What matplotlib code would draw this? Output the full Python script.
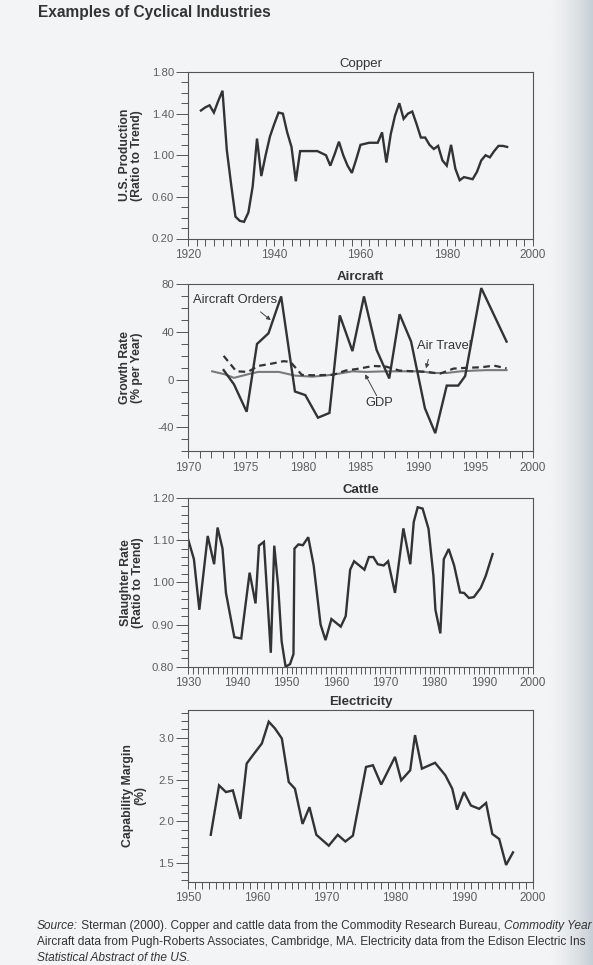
import matplotlib
matplotlib.use('Agg')
import matplotlib.pyplot as plt
import numpy as np
from matplotlib.ticker import MultipleLocator, FixedLocator, FormatStrFormatter

plt.rcParams['font.family'] = ['Liberation Sans', 'DejaVu Sans']

# ---------------- data ----------------
copper_years = list(range(1923, 1995))
copper_vals = [1.43, 1.46, 1.48, 1.41, 1.52, 1.62, 1.05, 0.72, 0.41, 0.37,
               0.36, 0.45, 0.70, 1.16, 0.80, 1.00, 1.18, 1.30, 1.41, 1.40,
               1.22, 1.08, 0.75, 1.04, 1.04, 1.04, 1.04, 1.04, 1.02, 1.00,
               0.90, 1.01, 1.13, 1.00, 0.90, 0.83, 0.96, 1.10, 1.11, 1.12,
               1.12, 1.12, 1.22, 0.93, 1.20, 1.38, 1.50, 1.35, 1.40, 1.42,
               1.30, 1.17, 1.17, 1.10, 1.06, 1.09, 0.95, 0.90, 1.10, 0.87,
               0.76, 0.79, 0.78, 0.77, 0.84, 0.95, 1.00, 0.98, 1.04, 1.09,
               1.09, 1.08]

orders_x = [1973.1, 1974.0, 1975.1, 1976.0, 1977.0, 1978.1, 1979.3, 1980.2,
            1981.3, 1982.3, 1983.2, 1984.3, 1985.3, 1986.4, 1987.5, 1988.4,
            1989.4, 1990.6, 1991.5, 1992.5, 1993.5, 1994.1, 1995.5, 1997.7]
orders_v = [8, -4, -27, 30, 39, 70, -10, -13, -32, -28, 54, 24, 70, 25, 1, 55,
            32, -24, -45, -5, -5, 3, 77, 32]

travel_x = [1973.1, 1974.2, 1975.2, 1976.1, 1977.3, 1978.3, 1978.9, 1979.9,
            1980.8, 1982.6, 1983.7, 1984.9, 1986.1, 1987.2, 1988.4, 1989.6,
            1990.8, 1991.9, 1993.1, 1994.3, 1995.5, 1996.6, 1997.7]
travel_v = [20, 7, 6.5, 11.5, 13.5, 15.5, 15, 4, 3.7, 4, 7.6, 9.3, 11.5, 11,
            7.6, 7, 6.5, 5, 9.3, 10, 10.4, 11.8, 9.5]

gdp_x = [1972.1, 1973.2, 1974.0, 1975.2, 1976.1, 1977.9, 1979.3, 1980.8,
         1982.0, 1983.1, 1984.3, 1985.5, 1987.2, 1989.0, 1990.2, 1991.3,
         1992.5, 1993.7, 1994.9, 1996.0, 1997.7]
gdp_v = [7, 4.5, 1.5, 4.5, 6.5, 6.5, 3.4, 2.5, 3.5, 5, 7, 6.5, 7, 7, 7, 5.6,
         5.6, 7, 7.6, 8, 8]

cattle_x = [1930.0, 1931.2, 1932.3, 1934.0, 1935.3, 1936.0, 1937.0, 1937.7,
            1939.4, 1940.8, 1942.5, 1943.7, 1944.4, 1945.4, 1946.8, 1947.5,
            1948.3, 1949.0, 1949.8, 1950.7, 1951.4, 1951.6, 1952.4, 1953.3,
            1954.4, 1955.5, 1956.9, 1957.9, 1959.1, 1961.0, 1962.0, 1962.9,
            1963.7, 1965.8, 1966.7, 1967.6, 1968.5, 1969.7, 1970.6, 1972.0,
            1973.7, 1975.1, 1975.8, 1976.6, 1977.6, 1978.8, 1979.8, 1980.2,
            1981.2, 1981.9, 1982.9, 1984.0, 1985.2, 1986.0, 1987.0, 1988.0,
            1989.4, 1990.4, 1991.8]
cattle_v = [1.103, 1.055, 0.935, 1.110, 1.043, 1.130, 1.080, 0.975, 0.870,
            0.867, 1.023, 0.950, 1.087, 1.096, 0.833, 1.087, 0.990, 0.860,
            0.800, 0.806, 0.830, 1.080, 1.090, 1.088, 1.107, 1.040, 0.900,
            0.863, 0.913, 0.895, 0.920, 1.030, 1.050, 1.030, 1.060, 1.060,
            1.043, 1.040, 1.050, 0.975, 1.128, 1.043, 1.143, 1.178, 1.175,
            1.127, 1.015, 0.935, 0.879, 1.055, 1.079, 1.040, 0.976, 0.975,
            0.963, 0.965, 0.987, 1.015, 1.067]

elec_x = [1953.3, 1954.5, 1955.5, 1956.5, 1957.6, 1958.5, 1959.4, 1960.7,
          1961.7, 1962.6, 1963.6, 1964.6, 1965.5, 1966.6, 1967.6, 1968.6,
          1970.4, 1971.7, 1972.8, 1973.9, 1975.8, 1976.8, 1978.0, 1980.0,
          1980.9, 1982.2, 1982.9, 1983.9, 1985.8, 1987.3, 1988.3, 1989.0,
          1990.0, 1991.0, 1992.2, 1993.2, 1994.1, 1995.1, 1996.1, 1997.1]
elec_v = [1.84, 2.43, 2.35, 2.37, 2.03, 2.69, 2.79, 2.93, 3.19, 3.11, 2.99,
          2.47, 2.39, 1.97, 2.17, 1.84, 1.71, 1.84, 1.76, 1.83, 2.65, 2.67,
          2.44, 2.77, 2.49, 2.61, 3.03, 2.63, 2.70, 2.55, 2.39, 2.14, 2.35,
          2.19, 2.15, 2.22, 1.85, 1.79, 1.48, 1.63]

# ---------------- figure ----------------
W, H = 593, 965
BG = '#f2f4f5'
INK = '#333333'
TICKC = '#5e5e5e'
fig = plt.figure(figsize=(W / 100, H / 100), dpi=100)
fig.patch.set_facecolor(BG)

# page-edge shading on the right
edge = fig.add_axes([550 / W, 0, (W - 550) / W, 1])
grad = np.linspace(0, 1, 64) ** 1.4
edge.imshow(np.tile(grad, (8, 1)), aspect='auto',
            cmap=matplotlib.colors.LinearSegmentedColormap.from_list('e', [BG, '#c7cfd6']),
            extent=[0, 1, 0, 1])
edge.axis('off')

LEFT, RIGHT = 188.0, 533.0


def px_axes(top, bottom):
    return fig.add_axes([LEFT / W, 1 - bottom / H, (RIGHT - LEFT) / W, (bottom - top) / H])


def style(ax, title, bold, xlim, ylim, xmaj, xmin, ymajor, ymin, yfmt):
    ax.set_facecolor('none')
    ax.set_xlim(*xlim)
    ax.set_ylim(*ylim)
    ax.xaxis.set_major_locator(MultipleLocator(xmaj))
    ax.xaxis.set_minor_locator(MultipleLocator(xmin))
    ax.yaxis.set_major_locator(FixedLocator(ymajor))
    ax.yaxis.set_minor_locator(MultipleLocator(ymin))
    ax.yaxis.set_major_formatter(FormatStrFormatter(yfmt))
    ax.tick_params(axis='x', which='both', direction='out', length=5.2, width=0.7,
                   color='#555555', labelsize=8.5, labelcolor=TICKC, pad=2.5)
    ax.tick_params(axis='y', which='major', direction='out', length=8.5, width=0.7,
                   color='#555555', labelsize=8.2, labelcolor=TICKC, pad=1.5)
    ax.tick_params(axis='y', which='minor', direction='out', length=5, width=0.7,
                   color='#555555')
    for s in ax.spines.values():
        s.set_color('#555555')
        s.set_linewidth(0.8)
    ax.set_title(title, fontsize=9.5, color=INK, pad=3.5,
                 fontweight='bold' if bold else 'normal')


def ylab(ax, text, xpx):
    pos = ax.get_position()
    fig.text(xpx / W, pos.y0 + pos.height / 2, text, rotation=90, ha='center', va='center',
             fontsize=8.8, fontweight='bold', color=INK, multialignment='center',
             linespacing=1.1)


LW = 1.7

# Copper
ax1 = px_axes(72, 238.5)
ax1.plot(copper_years, copper_vals, color=INK, lw=LW, solid_joinstyle='miter')
style(ax1, 'Copper', False, (1920, 2000), (0.2, 1.8), 20, 2,
      [0.2, 0.6, 1.0, 1.4, 1.8], 0.1, '%.2f')
ylab(ax1, 'U.S. Production\n(Ratio to Trend)', 131)

# Aircraft
ax2 = px_axes(284.5, 451)
ax2.plot(gdp_x, gdp_v, color='#7a7a7a', lw=1.5)
ax2.plot(travel_x, travel_v, color=INK, lw=1.6, ls=(0, (3, 2)))
ax2.plot(orders_x, orders_v, color=INK, lw=LW, solid_joinstyle='miter')
style(ax2, 'Aircraft', True, (1970, 2000), (-60, 80), 5, 1,
      [-40, 0, 40, 80], 10, '%d')
ylab(ax2, 'Growth Rate\n(% per Year)', 131)
arrow = dict(arrowstyle='-|>', lw=0.7, color='#444444', mutation_scale=6,
             shrinkA=0, shrinkB=0)
ax2.text(1970.4, 67, 'Aircraft Orders', fontsize=9.3, color=INK, va='center', ha='left')
ax2.annotate('', xy=(1977.2, 50), xytext=(1976.3, 57), arrowprops=arrow)
ax2.text(1989.9, 28, 'Air Travel', fontsize=9.3, color=INK, va='center', ha='left')
ax2.annotate('', xy=(1990.7, 9.5), xytext=(1990.9, 17), arrowprops=arrow)
ax2.text(1986.6, -19.5, 'GDP', fontsize=9.3, color=INK, va='center', ha='center')
ax2.annotate('', xy=(1985.4, 4.5), xytext=(1986.4, -13.5), arrowprops=arrow)

# Cattle
ax3 = px_axes(498, 666.7)
ax3.plot(cattle_x, cattle_v, color=INK, lw=LW, solid_joinstyle='miter')
style(ax3, 'Cattle', True, (1930, 2000), (0.8, 1.2), 10, 1,
      [0.8, 0.9, 1.0, 1.1, 1.2], 0.02, '%.2f')
ylab(ax3, 'Slaughter Rate\n(Ratio to Trend)', 132)

# Electricity
ax4 = px_axes(710, 881.7)
ax4.plot(elec_x, elec_v, color=INK, lw=LW, solid_joinstyle='miter')
style(ax4, 'Electricity', True, (1950, 2000), (1.28, 3.33), 10, 1,
      [1.5, 2.0, 2.5, 3.0], 0.1, '%.1f')
ylab(ax4, 'Capability Margin\n(%)', 134)

# header
fig.text(38 / W, 1 - 13 / H, 'Examples of Cyclical Industries', fontsize=11.2,
         fontweight='bold', color=INK, va='center', ha='left')

# source note
renderer = fig.canvas.get_renderer()


def rich_line(xpx, ybase, parts, size=8.6):
    x = xpx
    for txt, st in parts:
        t = fig.text(x / W, 1 - ybase / H, txt, fontsize=size, style=st, color=INK,
                     va='baseline', ha='left')
        x += t.get_window_extent(renderer=renderer).width


rich_line(37, 929, [('Source:', 'italic'),
                    (' Sterman (2000). Copper and cattle data from the Commodity Research Bureau, ', 'normal'),
                    ('Commodity Year', 'italic')])
rich_line(37, 945, [('Aircraft data from Pugh-Roberts Associates, Cambridge, MA. Electricity data from the Edison Electric Ins', 'normal')])
rich_line(37, 961, [('Statistical Abstract of the US.', 'italic')])

fig.savefig('out.png', dpi=100, facecolor=BG)
